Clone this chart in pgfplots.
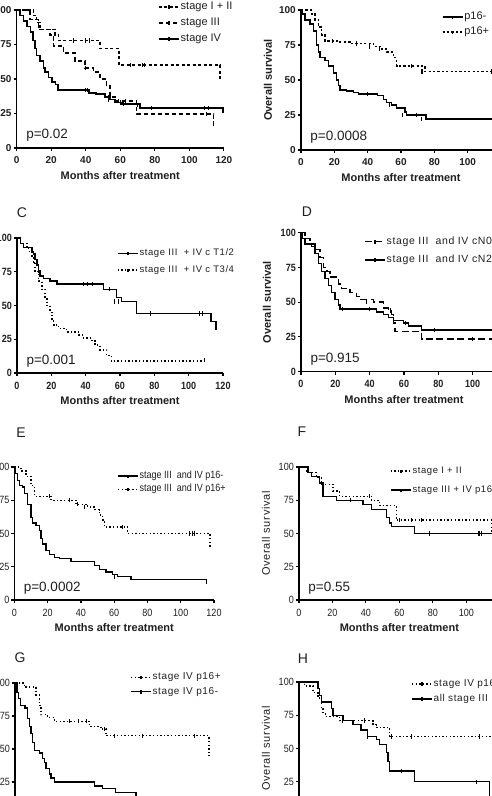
\documentclass[border=0pt]{standalone}
\usepackage{fontspec}
\setmainfont{Liberation Sans}
\newfontfamily\narrowsans[FakeStretch=0.86]{Liberation Sans}
\newfontfamily\widesans[LetterSpace=6]{Liberation Sans}
\usepackage{pgfplots}
\pgfplotsset{compat=1.18}

\colorlet{ink}{black!88}

\pgfplotsset{
  km panel/.style={
    scale only axis, xmin=0, xmax=120, ymin=0, ymax=100,
    axis x line=bottom, axis y line=left,
    axis line style={-, line width=1.4pt, black},
    xtick={0,20,...,120}, ytick={0,25,50,75,100},
    tick align=outside, major tick length=3pt,
    tick style={line width=1.1pt, black},
    clip=false,
    /pgf/number format/assume math mode=true,
    xlabel={Months after treatment},
    xlabel style={at={(axis description cs:0.5,0)}, anchor=center, yshift=-27.5pt,
      font=\bfseries\fontsize{11}{12}\selectfont, text=ink},
    ylabel style={at={(axis description cs:-0.165,0.5)}, anchor=center, text=ink},
    yticklabel style={inner sep=1pt, xshift=-1pt, text=ink},
    xticklabel style={inner sep=1pt, yshift=-4.5pt, text=ink},
    legend cell align=left,
    legend image code/.code={
      \draw[##1] (0pt,0pt) -- (20pt,0pt);
      \draw[##1, solid] (10pt,-2pt) -- (10pt,1.5pt);
    },
    legend style={draw=none, fill=none, inner sep=0pt, anchor=west,
      nodes={inner sep=1pt, text height=7pt, text depth=2pt}, text=ink},
  },
  top ticks/.style={ticklabel style={font=\bfseries\fontsize{10}{12}\selectfont}},
  mid ticks/.style={ticklabel style={font=\narrowsans\bfseries\fontsize{10.5}{12}\selectfont}},
  low ticks/.style={ticklabel style={font=\narrowsans\fontsize{10.5}{12}\selectfont}},
  solidkm/.style={const plot, black, line width=1.5pt},
  dashkm/.style={const plot, black, line width=1.5pt, dash pattern=on 3pt off 2.5pt},
  dashdotkm/.style={const plot, black, line width=1.5pt, dash pattern=on 4.5pt off 2.5pt},
  longdashkm/.style={const plot, black, line width=1.5pt, dash pattern=on 7pt off 3.5pt},
  dotkm/.style={const plot, black, line width=1.4pt, dash pattern=on 1.4pt off 2.2pt},
  censor/.style={only marks, mark=|, mark size=2.2pt, black,
    mark options={line width=0.9pt, solid}, forget plot},
}

\newcommand{\pval}[1]{\node[anchor=west, font=\fontsize{13.5}{14}\selectfont, text=ink] at (axis cs:3.5,9) {#1};}

\begin{document}
\begin{tikzpicture}
\begin{scope}
\clip (0pt,0pt) rectangle (492pt,796pt);

% ---------------- A: stage groups ----------------
\begin{axis}[km panel, top ticks, at={(16.7pt,648pt)}, anchor=south west,
  width=207.2pt, height=138pt,
  legend style={at={(axis description cs:0.682,0.906)}, row sep=5pt,
    font=\fontsize{11}{12}\selectfont}]
\addplot[dashkm] coordinates {(0,100)(9.7,96)(11.6,91)(13.5,86)(22.2,82)(24.1,78)(48.3,72)(59.3,60)(117.8,50)};
\addlegendentry{stage I + II}
\addplot[dashdotkm] coordinates {(0,100)(7.7,93)(12.5,86)(19.3,82)(21.2,74)(27,69)(33.8,63)(39.6,58)(44.4,55)(48.3,50)(52.1,45)(54,37)(57,34)(69.5,24.5)(114,14.5)};
\addlegendentry{stage III}
\addplot[solidkm] coordinates {(0,100)(2,96)(4,92)(6,88)(8,84)(9.5,78)(10.5,72)(11.5,67)(13.5,63)(15.5,58)(16.5,55)(18.5,51)(20.5,48)(22.4,46)(24,42)(42,40)(46,39)(51,37)(54,35)(57,33)(61,32)(71.5,29)(119.5,25)};
\addlegendentry{stage IV}
\addplot[censor] coordinates {(33,78)(40,78)(42,78)(66,60)(73,60)(74,60)};
\addplot[censor] coordinates {(40,58)(53,37)(59,34)(63,34)(110,24.5)};
\addplot[censor] coordinates {(40,42)(41,42)(53,35)(60,33)(62,32)(70,31)(78,29)(109,29)(111,29)};
\pval{p=0.02}
\end{axis}

% ---------------- B: p16 status ----------------
\begin{axis}[km panel, top ticks, at={(301pt,646pt)}, anchor=south west,
  width=200pt, height=140pt,
  ylabel={Overall survival}, ylabel style={font=\bfseries\fontsize{11}{12}\selectfont},
  legend style={at={(axis description cs:0.703,0.896)}, row sep=4pt,
    font=\fontsize{11}{12}\selectfont}]
\addplot[solidkm] coordinates {(0,100)(0.8,97)(2.4,93)(5.4,90)(7.4,85)(9.4,75)(10.4,70)(11.4,66)(14.4,64)(16.4,60)(19.4,55)(21.4,50)(22.4,46)(23.4,43)(27.4,42)(31.4,41)(34.4,40)(46,39)(49.4,36)(51.4,34)(54.4,32)(57.4,30)(62.4,27)(63.4,25)(75,22)(118,22)};
\addlegendentry{p16-}
\addplot[dashkm, dash pattern=on 2.2pt off 2.2pt] coordinates {(0,100)(6.4,97)(8.4,93)(10.4,88)(12.4,82)(14.4,78)(23.4,77)(29.4,76)(43.4,74)(48.4,72)(51.4,70)(55.4,66)(57.4,60)(74.4,56)(118,56)};
\addlegendentry{p16+}
\addplot[censor] coordinates {(40,40)(53,32)(61,25)(69,25)(72,22)};
\addplot[censor] coordinates {(19,78)(33,76)(41,74)(47,72)(66,60)(72,56)(73,56)(114,56)};
\pval{p=0.0008}
\end{axis}

% ---------------- C: T category ----------------
\node[font=\fontsize{14}{15}\selectfont, text=ink] at (22pt,583pt) {C};
\begin{axis}[km panel, mid ticks, at={(17pt,423pt)}, anchor=south west,
  width=206pt, height=135pt,
  legend style={at={(axis description cs:0.485,0.824)}, row sep=5.7pt,
    font=\widesans\fontsize{9.5}{11}\selectfont}]
\addplot[solidkm] coordinates {(0,100)(1.9,96)(3.9,93)(8.7,90)(9.7,88)(10.6,84)(11.6,80)(12.6,76)(13.5,72)(15.5,70)(19.3,68)(23.2,66)(50.3,62)(58,56)(61,53)(69.6,44)(113,38)(116,31.5)};
\addlegendentry{stage III\ \ + IV c T1/2}
\addplot[dotkm] coordinates {(0,100)(1.9,96)(5.8,93)(6.8,90)(8.7,86)(9.7,82)(10.6,75)(12.6,68)(14.5,62)(16.4,55)(17.4,50)(19.3,45)(20.3,40)(21.3,35.5)(24.2,33)(29,30.5)(35.8,28)(38.7,26)(43.5,24)(45.5,20.6)(48.4,17)(52.2,13)(55,9)(108.7,9)};
\addlegendentry{stage III\ \ + IV c T3/4}
\addplot[censor] coordinates {(39,66)(41,66)(44,66)(54,62)(57,53)(59,53)(78,44)(106,44)(108,44)};
\addplot[censor] coordinates {(109,9.5)};
\pval{p=0.001}
\end{axis}

% ---------------- D: N category ----------------
\node[font=\fontsize{14}{15}\selectfont, text=ink] at (307pt,584pt) {D};
\begin{axis}[km panel, mid ticks, at={(301pt,424.3pt)}, anchor=south west,
  width=206pt, height=139pt,
  ylabel={Overall survival}, ylabel style={font=\bfseries\fontsize{11}{12}\selectfont},
  legend style={at={(axis description cs:0.306,0.870)}, row sep=7.3pt,
    font=\widesans\fontsize{10.5}{12}\selectfont}]
\addplot[longdashkm] coordinates {(0,100)(2.3,96)(5.2,92)(8.2,88)(11.1,82)(13,75)(15,72)(16.9,68)(20.8,67)(21.7,63)(23.7,60)(28.5,57)(32.4,54)(34.4,52)(42.1,50)(48,46)(50.9,44)(52.8,41)(53.8,35)(54.8,29)(70.3,23.5)(120,23.5)};
\addlegendentry{stage III\ \ and IV cN0/1}
\addplot[solidkm] coordinates {(0,100)(1,96)(2.3,92)(6.2,90)(8.2,85)(10.1,78)(12,72)(14,67)(15.9,62)(17.9,57)(19.8,52)(21.7,48)(22.7,45)(44.1,43)(48,41)(50.9,39)(53.8,37)(59.6,35)(62.5,33)(70.3,30)(120,30)};
\addlegendentry{stage III\ \ and IV cN2/3}
\addplot[censor] coordinates {(38,50)(52,44)(100,23.5)};
\addplot[censor] coordinates {(24,45)(40,45)(61,35)(78,30)(114,30)};
\pval{p=0.915}
\end{axis}

% ---------------- E: stage III/IV by p16 ----------------
\node[font=\fontsize{14}{15}\selectfont, text=ink] at (21pt,363pt) {E};
\begin{axis}[km panel, low ticks, at={(14.5pt,196pt)}, anchor=south west,
  width=199.5pt, height=133pt,
  legend style={at={(axis description cs:0.514,0.882)}, row sep=2.3pt,
    font=\narrowsans\fontsize{10.5}{12}\selectfont}]
\addplot[solidkm, line width=1.3pt] coordinates {(0,100)(0.6,95)(2,90)(3,86)(5,85)(6,80)(8,72)(10,62)(11,58)(13,56)(15,52)(16,46)(17,42)(19,37)(21,34)(24,32)(27,31)(34,29)(48,26)(51,23)(55,21)(59,19)(62,17.5)(70,15.5)(115.5,12)};
\addlegendentry{stage III\ \ and IV p16-}
\addplot[dotkm] coordinates {(0,100)(4,97)(7,93)(10,86)(12,78)(22,75)(37,72)(44,70)(48,68)(51,64)(53,60)(54,55)(68,50)(117.5,40)};
\addlegendentry{stage III\ \ and IV p16+}
\addplot[censor] coordinates {(60,17.5)};
\addplot[censor] coordinates {(21,78)(33,75)(38,72)(42,70)(65,55)(105,50)(107,50)(108,50)};
\pval{p=0.0002}
\end{axis}

% ---------------- F: early stage vs advanced p16+ ----------------
\node[font=\fontsize{14}{15}\selectfont, text=ink] at (302pt,364pt) {F};
\begin{axis}[km panel, low ticks, at={(299pt,196pt)}, anchor=south west,
  width=200.8pt, height=133pt,
  ylabel={Overall survival}, ylabel style={font=\widesans\fontsize{11}{12}\selectfont},
  legend style={at={(axis description cs:0.453,0.898)}, row sep=8pt,
    font=\widesans\fontsize{9.5}{11}\selectfont}]
\addplot[dotkm] coordinates {(0,100)(4.4,96)(10.4,92)(13.3,87)(20.3,82)(24.3,78)(43.2,75)(48.2,71)(58.2,60)(115,50)};
\addlegendentry{stage I + II}
\addplot[solidkm, line width=1.3pt] coordinates {(0,100)(5.4,96)(7.4,93)(12.4,88)(14.3,78)(22.3,75)(38.2,72)(43.2,68)(52.2,62)(54.2,58)(55.2,55)(69.1,50)(120,50)};
\addlegendentry{stage III + IV p16+}
\addplot[censor] coordinates {(42,78)(60,60)(67,60)(73,60)};
\addplot[censor] coordinates {(31,75)(78,50)(107,50)(108,50)(109,50)};
\pval{p=0.55}
\end{axis}

% ---------------- G: stage IV by p16 ----------------
\node[font=\fontsize{14}{15}\selectfont, text=ink] at (20pt,138pt) {G};
\begin{axis}[km panel, low ticks, at={(15pt,-19pt)}, anchor=south west,
  width=199pt, height=132pt,
  legend style={at={(axis description cs:0.578,0.989)}, row sep=3.4pt,
    font=\widesans\fontsize{10}{11}\selectfont}]
\addplot[dotkm] coordinates {(0,100)(5.6,97)(12.7,91)(14.7,83)(15.7,76)(19.7,74)(23.7,71)(44.8,67)(51.8,65)(54.8,60)(117,45)};
\addlegendentry{stage IV p16+}
\addplot[solidkm, line width=1.3pt] coordinates {(0,100)(1.2,93)(2,88)(3.2,83)(6,81)(7.6,73)(8.6,67)(9.6,62)(10.6,55)(11.6,49)(14.7,47)(16.7,43)(17.7,40)(18.7,35)(20.7,31)(21.7,28)(23.7,25)(47.8,22)(52.8,20)(60.8,17)(72.9,10)(90,10)};
\addlegendentry{stage IV p16-}
\addplot[censor] coordinates {(33,71)(38,71)(43,71)(54,65)(60,60)(77,60)(108,60)};
\end{axis}

% ---------------- H: stage IV p16+ vs stage III ----------------
\node[font=\fontsize{14}{15}\selectfont, text=ink] at (303pt,137pt) {H};
\begin{axis}[km panel, low ticks, at={(299pt,-19pt)}, anchor=south west,
  width=200.8pt, height=133pt,
  ylabel={Overall survival}, ylabel style={font=\widesans\fontsize{11}{12}\selectfont},
  legend style={at={(axis description cs:0.558,0.929)}, row sep=4pt,
    font=\widesans\fontsize{10}{11}\selectfont}]
\addplot[dotkm] coordinates {(0,100)(3.4,97)(8.4,92)(11.4,88)(13.3,80)(14.3,76)(16.3,74)(24.3,71)(44.2,68)(46.2,66)(54.2,59)(120,59)};
\addlegendentry{stage IV p16+}
\addplot[solidkm, line width=1.3pt] coordinates {(0,100)(11.4,95)(12.4,90)(13.3,85)(19.3,80)(20.3,75)(26.3,71)(32.3,68)(37,64)(41,59)(46.2,57)(48,53)(52.2,47)(53.2,40)(54.2,33)(69.1,25)(114,5)};
\addlegendentry{all stage III}
\addplot[censor] coordinates {(26,71)(39,71)(55,59)(67,59)(108,59)};
\addplot[censor] coordinates {(41,59)(61,33)(106,25)};
\end{axis}
\end{scope}
\pgfresetboundingbox
\path (0pt,0pt) rectangle (492pt,796pt);
\end{tikzpicture}
\end{document}
